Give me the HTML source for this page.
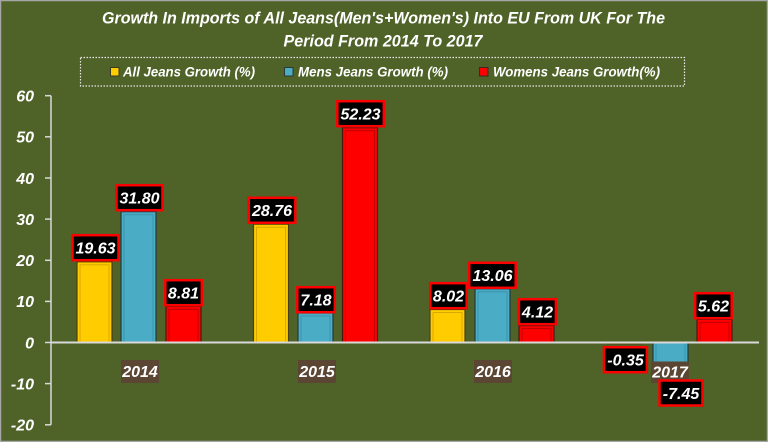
<!DOCTYPE html>
<html>
<head>
<meta charset="utf-8">
<style>
html,body{margin:0;padding:0;background:#4F6228;}
svg{display:block;}
text{font-family:"Liberation Sans",sans-serif;font-weight:bold;font-style:italic;fill:#ffffff;}
</style>
</head>
<body>
<svg width="768" height="442" viewBox="0 0 768 442" xmlns="http://www.w3.org/2000/svg">
  <rect x="0" y="0" width="768" height="442" fill="#4F6228"/>
  <rect x="0.5" y="0.5" width="767" height="441" fill="none" stroke="#a6a6a6" stroke-width="1.5"/>

  <!-- Title -->
  <text x="383.5" y="23.5" font-size="16.5" text-anchor="middle" textLength="563" lengthAdjust="spacingAndGlyphs">Growth In Imports of All Jeans(Men's+Women's) Into EU From UK For The</text>
  <text x="383" y="46.5" font-size="16.5" text-anchor="middle" textLength="199" lengthAdjust="spacingAndGlyphs">Period From 2014 To 2017</text>

  <!-- Legend -->
  <rect x="80.5" y="57.5" width="604" height="28.5" fill="none" stroke="#e8e8e8" stroke-width="1.2" stroke-dasharray="1.5,1.5"/>
  <rect x="110.5" y="67.5" width="8.5" height="8.5" fill="#FFCC00" stroke="#3a3a20" stroke-width="1"/>
  <text x="123" y="76.5" font-size="14" textLength="132" lengthAdjust="spacingAndGlyphs">All Jeans Growth (%)</text>
  <rect x="284.5" y="67.5" width="8.5" height="8.5" fill="#4BACC6" stroke="#2a3a30" stroke-width="1"/>
  <text x="298" y="76.5" font-size="14" textLength="150" lengthAdjust="spacingAndGlyphs">Mens Jeans Growth (%)</text>
  <rect x="479.5" y="67.5" width="8.5" height="8.5" fill="#FF0000" stroke="#3a2a20" stroke-width="1"/>
  <text x="493" y="76.5" font-size="14" textLength="167" lengthAdjust="spacingAndGlyphs">Womens Jeans Growth(%)</text>

  <!-- Y axis -->
  <g stroke="#d9d9d9" stroke-width="1.5">
    <line x1="51" y1="95.7" x2="51" y2="424.8"/>
    <line x1="45" y1="95.7" x2="51" y2="95.7"/>
    <line x1="45" y1="136.8" x2="51" y2="136.8"/>
    <line x1="45" y1="178" x2="51" y2="178"/>
    <line x1="45" y1="219.1" x2="51" y2="219.1"/>
    <line x1="45" y1="260.3" x2="51" y2="260.3"/>
    <line x1="45" y1="301.4" x2="51" y2="301.4"/>
    <line x1="45" y1="342.5" x2="51" y2="342.5"/>
    <line x1="45" y1="383.6" x2="51" y2="383.6"/>
    <line x1="45" y1="424.8" x2="51" y2="424.8"/>
  </g>
  <g font-size="16" text-anchor="end">
    <text x="34" y="101.5">60</text>
    <text x="34" y="142.6">50</text>
    <text x="34" y="183.8">40</text>
    <text x="34" y="224.9">30</text>
    <text x="34" y="266.1">20</text>
    <text x="34" y="307.2">10</text>
    <text x="34" y="348.3">0</text>
    <text x="34" y="389.4">-10</text>
    <text x="34" y="430.6">-20</text>
  </g>

  <!-- Bars -->
  <g stroke-width="1.2">
    <!-- 2014 -->
    <rect x="77" y="261.8" width="35" height="80.7" fill="#FFCC00" stroke="#4a3f10"/>
    <rect x="80" y="264.8" width="29" height="77.7" fill="none" stroke="#d9a800" stroke-width="1"/>
    <rect x="121" y="211.7" width="35" height="130.8" fill="#4BACC6" stroke="#233a40"/>
    <rect x="124" y="214.7" width="29" height="127.8" fill="none" stroke="#3a93ab" stroke-width="1"/>
    <rect x="166" y="306.3" width="35" height="36.2" fill="#FF0000" stroke="#4a1a10"/>
    <rect x="169" y="309.3" width="29" height="33.2" fill="none" stroke="#c00000" stroke-width="1"/>
    <!-- 2015 -->
    <rect x="253.5" y="224.2" width="35" height="118.3" fill="#FFCC00" stroke="#4a3f10"/>
    <rect x="256.5" y="227.2" width="29" height="115.3" fill="none" stroke="#d9a800" stroke-width="1"/>
    <rect x="298" y="313" width="35" height="29.5" fill="#4BACC6" stroke="#233a40"/>
    <rect x="301" y="316" width="29" height="26.5" fill="none" stroke="#3a93ab" stroke-width="1"/>
    <rect x="342.5" y="127.7" width="35" height="214.8" fill="#FF0000" stroke="#4a1a10"/>
    <rect x="345.5" y="130.7" width="29" height="211.8" fill="none" stroke="#c00000" stroke-width="1"/>
    <!-- 2016 -->
    <rect x="430" y="309.5" width="35" height="33" fill="#FFCC00" stroke="#4a3f10"/>
    <rect x="433" y="312.5" width="29" height="30" fill="none" stroke="#d9a800" stroke-width="1"/>
    <rect x="475" y="288.8" width="35" height="53.7" fill="#4BACC6" stroke="#233a40"/>
    <rect x="478" y="291.8" width="29" height="50.7" fill="none" stroke="#3a93ab" stroke-width="1"/>
    <rect x="519" y="325.6" width="35" height="16.9" fill="#FF0000" stroke="#4a1a10"/>
    <rect x="522" y="328.6" width="29" height="13.9" fill="none" stroke="#c00000" stroke-width="1"/>
    <!-- 2017 -->
    <rect x="607" y="342.5" width="35" height="1.4" fill="#FFCC00" stroke="#4a3f10" stroke-width="0.6"/>
    <rect x="653" y="342.5" width="35" height="30.6" fill="#4BACC6" stroke="#233a40"/>
    <rect x="656" y="342.5" width="29" height="27.6" fill="none" stroke="#3a93ab" stroke-width="1"/>
    <rect x="697" y="319.4" width="35" height="23.1" fill="#FF0000" stroke="#4a1a10"/>
    <rect x="700" y="322.4" width="29" height="20.1" fill="none" stroke="#c00000" stroke-width="1"/>
  </g>

  <!-- Zero line -->
  <line x1="51" y1="342.5" x2="759" y2="342.5" stroke="#d9d9d9" stroke-width="2"/>

  <!-- Category labels -->
  <g>
    <rect x="121" y="360" width="38" height="23" fill="#5a4632"/>
    <rect x="298" y="360" width="38" height="23" fill="#5a4632"/>
    <rect x="474" y="360" width="38" height="23" fill="#5a4632"/>
    <rect x="651" y="361.5" width="38" height="21.5" fill="#5a4632"/>
  </g>
  <g font-size="16" text-anchor="middle">
    <text x="140" y="377">2014</text>
    <text x="317" y="377">2015</text>
    <text x="493" y="377">2016</text>
    <text x="670" y="377.5">2017</text>
  </g>

  <!-- Data labels -->
  <g fill="#000000" stroke="#FF0000" stroke-width="2.5">
    <rect x="72.5" y="235.2" width="46" height="25" />
    <rect x="116.5" y="185.2" width="46" height="25" />
    <rect x="165.3" y="280.2" width="36.5" height="25" />
    <rect x="248.8" y="197.8" width="46.5" height="25" />
    <rect x="297.3" y="287.2" width="37.5" height="25" />
    <rect x="337.3" y="101.2" width="46.5" height="25" />
    <rect x="430.2" y="283.2" width="36.5" height="25" />
    <rect x="469.2" y="262.8" width="46.5" height="25" />
    <rect x="518.9" y="299.2" width="37" height="25" />
    <rect x="603.9" y="347.2" width="43" height="25" />
    <rect x="659.5" y="380.5" width="43" height="25" />
    <rect x="695.2" y="293.2" width="36.5" height="25" />
  </g>
  <g font-size="16" text-anchor="middle">
    <text x="95.5" y="253.5">19.63</text>
    <text x="139.5" y="203.5">31.80</text>
    <text x="183.5" y="298.5">8.81</text>
    <text x="272" y="216">28.76</text>
    <text x="316" y="305.5">7.18</text>
    <text x="360.5" y="119.5">52.23</text>
    <text x="448.5" y="301.5">8.02</text>
    <text x="492.5" y="281">13.06</text>
    <text x="537.5" y="317.5">4.12</text>
    <text x="625.5" y="365.5">-0.35</text>
    <text x="681" y="398.8">-7.45</text>
    <text x="713.5" y="311.5">5.62</text>
  </g>
</svg>
</body>
</html>
